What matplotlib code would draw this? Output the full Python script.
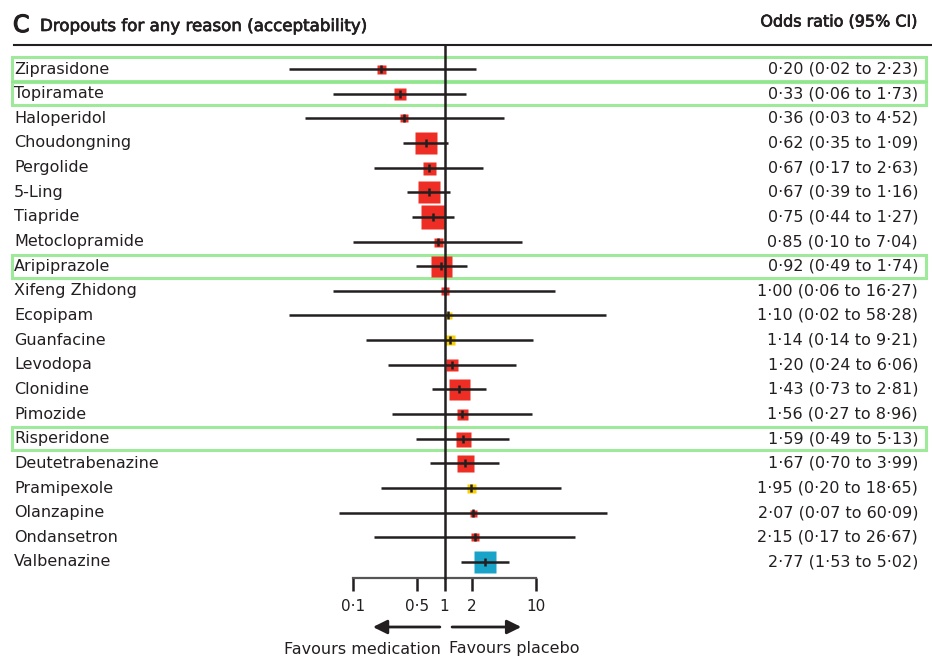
import matplotlib
matplotlib.use("Agg")
import matplotlib.pyplot as plt
import matplotlib.transforms as mtransforms
import matplotlib.patheffects as pe
from matplotlib.patches import Rectangle

drugs = [
    "Ziprasidone", "Topiramate", "Haloperidol", "Choudongning", "Pergolide",
    "5-Ling", "Tiapride", "Metoclopramide", "Aripiprazole", "Xifeng Zhidong",
    "Ecopipam", "Guanfacine", "Levodopa", "Clonidine", "Pimozide",
    "Risperidone", "Deutetrabenazine", "Pramipexole", "Olanzapine",
    "Ondansetron", "Valbenazine",
]
odds = [0.20, 0.33, 0.36, 0.62, 0.67, 0.67, 0.75, 0.85, 0.92, 1.00, 1.10,
        1.14, 1.20, 1.43, 1.56, 1.59, 1.67, 1.95, 2.07, 2.15, 2.77]
lower = [0.02, 0.06, 0.03, 0.35, 0.17, 0.39, 0.44, 0.10, 0.49, 0.06, 0.02,
         0.14, 0.24, 0.73, 0.27, 0.49, 0.70, 0.20, 0.07, 0.17, 1.53]
upper = [2.23, 1.73, 4.52, 1.09, 2.63, 1.16, 1.27, 7.04, 1.74, 16.27, 58.28,
         9.21, 6.06, 2.81, 8.96, 5.13, 3.99, 18.65, 60.09, 26.67, 5.02]
# relative study weight (drawn as square size)
weight = [9, 12, 8, 22, 13, 23, 24, 9, 21, 8, 7, 10, 12, 21, 11, 15, 17, 9,
          7, 8, 22]
# evidence group: r = red, y = yellow, b = blue
group = ["r", "r", "r", "r", "r", "r", "r", "r", "r", "r", "y", "y", "r", "r",
         "r", "r", "r", "y", "r", "r", "b"]
highlighted = ["Ziprasidone", "Topiramate", "Aripiprazole", "Risperidone"]

tick_values = [0.1, 0.5, 1, 2, 10]
tick_labels = ["0·1", "0·5", "1", "2", "10"]

colours = {"r": "#EE2E24", "y": "#F9D100", "b": "#1AA3C8"}
ink = "#231F20"
W, H = 932, 657


def fmt(v):
    return f"{v:.2f}".replace(".", "·")


fig = plt.figure(figsize=(W / 100, H / 100), dpi=100)
plt.rcParams["font.family"] = ["DejaVu Sans"]
heavy = [pe.withStroke(linewidth=0.5, foreground=ink)]

# forest axes: 0.1 -> 353 px, 10 -> 536 px; header rule at 45 px, axis at 578 px
ax = fig.add_axes([353 / W, (H - 578) / H, 183 / W, 533 / H])
ax.set_xscale("log")
ax.set_xlim(0.1, 10)
ax.set_ylim(20.65, -0.974)
for side in ["top", "left", "right"]:
    ax.spines[side].set_visible(False)
ax.spines["bottom"].set_color("#555555")
ax.spines["bottom"].set_linewidth(1.6)
ax.set_yticks([])
ax.set_xticks(tick_values)
ax.set_xticklabels(tick_labels)
ax.xaxis.set_minor_locator(plt.NullLocator())
ax.tick_params(axis="x", direction="out", length=9, width=1.8, color=ink,
               labelsize=11, labelcolor=ink, pad=6)

ax.axvline(1, color=ink, lw=1.8, zorder=3, clip_on=False)

for i in range(len(drugs)):
    ax.plot([lower[i], upper[i]], [i, i], color=ink, lw=1.8, zorder=4,
            clip_on=False, solid_capstyle="butt")
    s = weight[i] * 0.72
    ax.plot(odds[i], i, marker="s", ms=s, color=colours[group[i]], mec="none",
            zorder=2, clip_on=False)
    ax.plot(odds[i], i, marker="|", ms=6, mew=1.8, color=ink, zorder=5,
            clip_on=False)

# text columns
tf = mtransforms.blended_transform_factory(fig.transFigure, ax.transData)
for i, name in enumerate(drugs):
    ax.text(14 / W, i, name, transform=tf, ha="left", va="center",
            fontsize=11.5, color=ink)
    ax.text(918 / W, i, f"{fmt(odds[i])} ({fmt(lower[i])} to {fmt(upper[i])})",
            transform=tf, ha="right", va="center", fontsize=11.5, color=ink)
    if name in highlighted:
        ax.add_patch(Rectangle((12 / W, i - 0.47), 914 / W, 0.94, transform=tf,
                               fill=False, ec="#8EE68A", lw=2.2, alpha=0.85,
                               clip_on=False, zorder=1))

# header
tfa = mtransforms.blended_transform_factory(fig.transFigure, ax.transAxes)
ax.plot([14 / W, 1], [1, 1], transform=tfa, color=ink, lw=1.5, clip_on=False)
fig.text(13 / W, 1 - 25 / H, "C", fontsize=17, color=ink, va="center",
         ha="left", path_effects=[pe.withStroke(linewidth=0.9, foreground=ink)])
fig.text(40 / W, 1 - 26 / H, "Dropouts for any reason (acceptability)",
         fontsize=12, color=ink, va="center", ha="left", path_effects=heavy)
fig.text(918 / W, 1 - 22 / H, "Odds ratio (95% CI)", fontsize=11.5,
         color=ink, va="center", ha="right", path_effects=heavy)

# favours arrows
ta = mtransforms.blended_transform_factory(ax.transData, fig.transFigure)
ya = 1 - 627 / H
arrow = dict(arrowstyle="-|>,head_length=0.85,head_width=0.42", color=ink,
             lw=2, shrinkA=0, shrinkB=0)
ax.annotate("", xy=(0.165, ya), xytext=(0.89, ya), xycoords=ta,
            textcoords=ta, arrowprops=arrow, annotation_clip=False)
ax.annotate("", xy=(6.9, ya), xytext=(1.21, ya), xycoords=ta,
            textcoords=ta, arrowprops=arrow, annotation_clip=False)
ax.text(0.92, 1 - 649 / H, "Favours medication", transform=ta, ha="right",
        va="center", fontsize=11.5, color=ink)
ax.text(1.12, 1 - 649 / H, "Favours placebo", transform=ta, ha="left",
        va="center", fontsize=11.5, color=ink)

fig.savefig("out.png", dpi=100, facecolor="white")
